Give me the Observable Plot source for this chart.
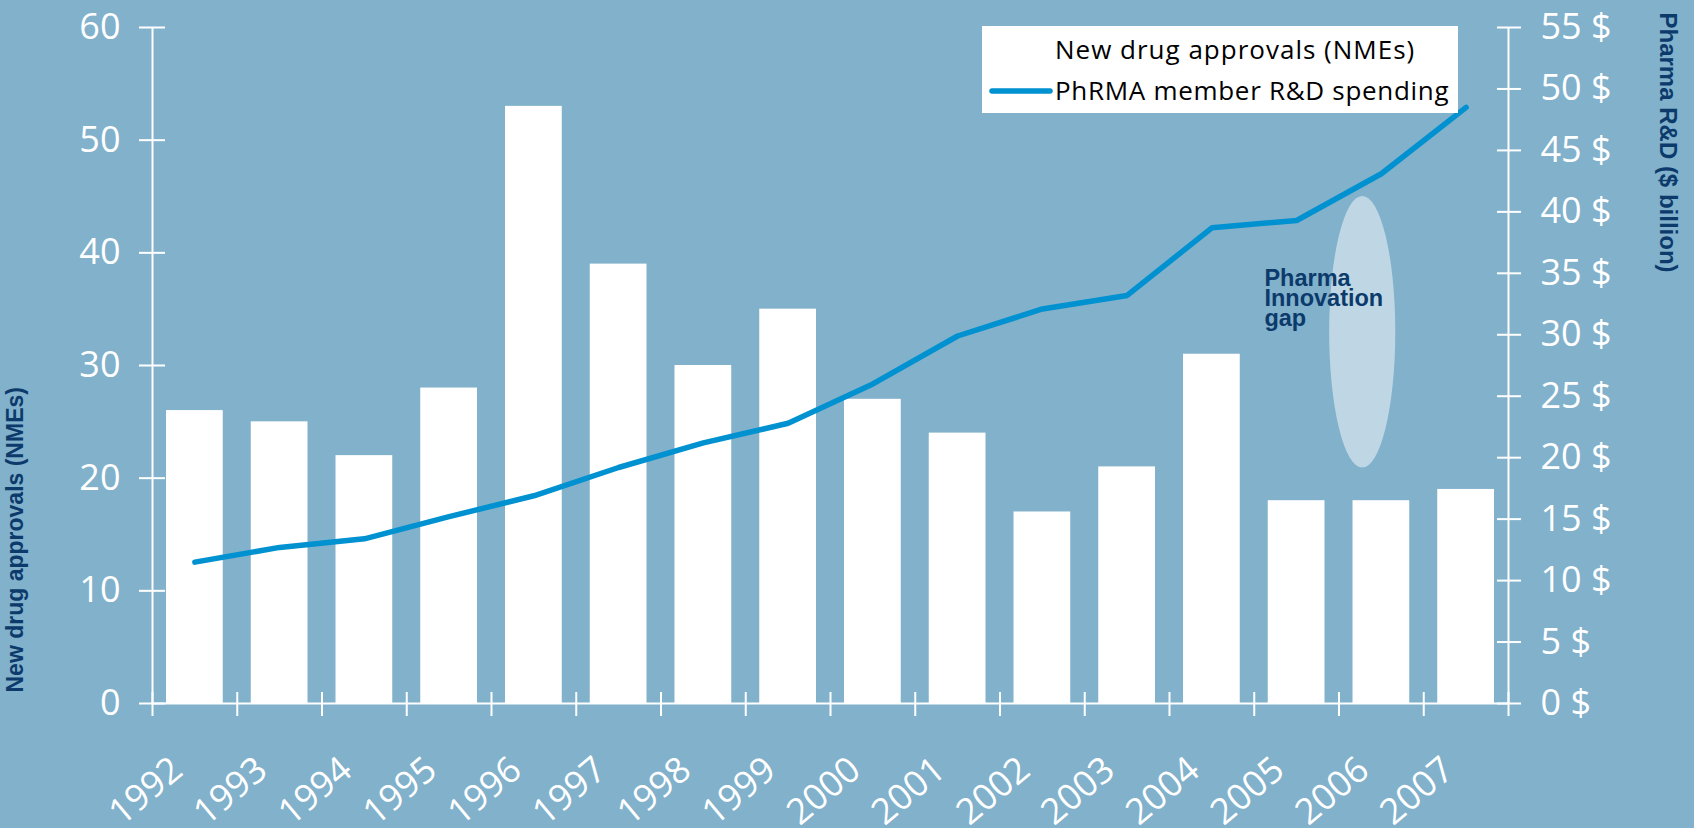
<!DOCTYPE html>
<html>
<head>
<meta charset="utf-8">
<script src="https://cdn.jsdelivr.net/npm/d3@7"></script>
<script src="https://cdn.jsdelivr.net/npm/@observablehq/plot@0.6"></script>
<style>
  html, body { margin: 0; padding: 0; background: #81b1cb; overflow: hidden; }
  #wrap { position: relative; width: 1694px; height: 828px; background: #81b1cb; }
  #legend { position: absolute; left: 0; top: 0; }
</style>
</head>
<body>
<div id="wrap"></div>
<script>
// ---- data ----
const years = [1992, 1993, 1994, 1995, 1996, 1997, 1998, 1999, 2000, 2001, 2002, 2003, 2004, 2005, 2006, 2007];
const nmeApprovals = [26, 25, 22, 28, 53, 39, 30, 35, 27, 24, 17, 21, 31, 18, 18, 19];
const rdSpending = [11.5, 12.7, 13.4, 15.2, 16.9, 19.2, 21.2, 22.8, 26.0, 29.9, 32.1, 33.2, 38.7, 39.3, 43.1, 48.5];
const leftTicks = [0, 10, 20, 30, 40, 50, 60];
const rightTicks = [0, 5, 10, 15, 20, 25, 30, 35, 40, 45, 50, 55];
const leftTitle = "New drug approvals (NMEs)";
const rightTitle = "Pharma R&D ($ billion)";
const legendLabels = ["New drug approvals (NMEs)", "PhRMA member R&D spending"];
const gapNote = {text: "Pharma\nInnovation\ngap", year: 2004.62, value: 38.3};
const gapShape = {year1: 2005.39, year2: 2006.17, value1: 20.9, value2: 45.0};

// ---- derived tables ----
const table = years.map((y, i) => ({year: y, nme: nmeApprovals[i], rd: rdSpending[i]}));
const boundaries = years.map(y => y - 0.5).concat([years[years.length - 1] + 0.5]);
const leftMax = 60, rightMax = 55;
const toLeft = v => v * leftMax / rightMax;

const navy = "#0c3a6b";
const lineBlue = "#0091d1";
const font = "'Open Sans', 'Noto Sans', sans-serif";
const boldFont = "'Liberation Sans', Arial, sans-serif";

const chart = Plot.plot({
  width: 1694,
  height: 828,
  marginLeft: 152,
  marginRight: 186,
  marginTop: 27,
  marginBottom: 125,
  style: {background: "#81b1cb", color: "white", fontFamily: font, overflow: "visible"},
  x: {domain: [boundaries[0], boundaries[boundaries.length - 1]], axis: null},
  y: {domain: [0, leftMax], axis: null},
  marks: [
    Plot.rectY(table, {x1: d => d.year - 0.5, x2: d => d.year + 0.5, y: "nme", fill: "white", insetLeft: 14, insetRight: 14}),
    Plot.rect([gapShape], {x1: "year1", x2: "year2", y1: "value1", y2: "value2", fill: "#bfd7e5", rx: 1000, ry: 1000}),
    Plot.ruleX([boundaries[0], boundaries[boundaries.length - 1]], {stroke: "white", strokeWidth: 2}),
    Plot.ruleY([0], {stroke: "white", strokeWidth: 2}),
    Plot.axisX(boundaries, {anchor: "bottom", tickSize: 24, dy: -11, strokeWidth: 2, stroke: "white", tickFormat: () => "", label: null}),
    Plot.text(years, {x: d => d, text: d => String(d), frameAnchor: "bottom", dx: -10, dy: 70, rotate: -40, textAnchor: "end", lineAnchor: "bottom", fontSize: 36, fill: "white", fontFamily: font}),
    Plot.axisY(leftTicks, {anchor: "left", tickSize: 26, dx: 13, tickPadding: 19, strokeWidth: 2, stroke: "white", fill: "white", fontSize: 36, label: null}),
    Plot.axisY(rightTicks.map(toLeft), {anchor: "right", tickSize: 24, dx: -12, tickPadding: 20, strokeWidth: 2, stroke: "white", fill: "white", fontSize: 36, label: null,
      tickFormat: v => `${Math.round(v * rightMax / leftMax)} $`}),
    Plot.line(table, {x: "year", y: d => toLeft(d.rd), stroke: lineBlue, strokeWidth: 5.5, strokeLinecap: "round", strokeLinejoin: "round"}),
    Plot.text([gapNote], {x: "year", y: "value", text: "text", textAnchor: "start", lineAnchor: "top", lineHeight: 0.85,
      fontSize: 23.5, fontWeight: "bold", fontFamily: boldFont, fill: navy}),
    Plot.text([leftTitle], {frameAnchor: "bottom-left", dx: -130, dy: -11, rotate: -90, textAnchor: "start",
      fontSize: 23, fontWeight: "bold", fontFamily: boldFont, fill: navy}),
    Plot.text([rightTitle], {frameAnchor: "top-right", dx: 169, dy: -15, rotate: 90, textAnchor: "start",
      fontSize: 24, fontWeight: "bold", fontFamily: boldFont, fill: navy})
  ]
});

const wrap = document.getElementById("wrap");
wrap.appendChild(chart);

// ---- legend (overlay) ----
const ns = "http://www.w3.org/2000/svg";
const leg = document.createElementNS(ns, "svg");
leg.setAttribute("id", "legend");
leg.setAttribute("width", 1694);
leg.setAttribute("height", 828);
leg.style.pointerEvents = "none";
const box = document.createElementNS(ns, "rect");
Object.entries({x: 982, y: 26, width: 476, height: 87, fill: "white"}).forEach(([k, v]) => box.setAttribute(k, v));
leg.appendChild(box);
const sw = document.createElementNS(ns, "line");
Object.entries({x1: 992, x2: 1050, y1: 91, y2: 91, stroke: lineBlue, "stroke-width": 5.5, "stroke-linecap": "round"}).forEach(([k, v]) => sw.setAttribute(k, v));
leg.appendChild(sw);
legendLabels.forEach((t, i) => {
  const tx = document.createElementNS(ns, "text");
  tx.setAttribute("x", 1055);
  tx.setAttribute("y", i === 0 ? 59 : 100);
  tx.setAttribute("fill", "#000");
  tx.setAttribute("font-size", 26);
  tx.setAttribute("letter-spacing", i === 0 ? 1 : 0.7);
  tx.setAttribute("font-family", "'Open Sans', sans-serif");
  tx.textContent = t;
  leg.appendChild(tx);
});
wrap.appendChild(leg);
</script>
</body>
</html>
